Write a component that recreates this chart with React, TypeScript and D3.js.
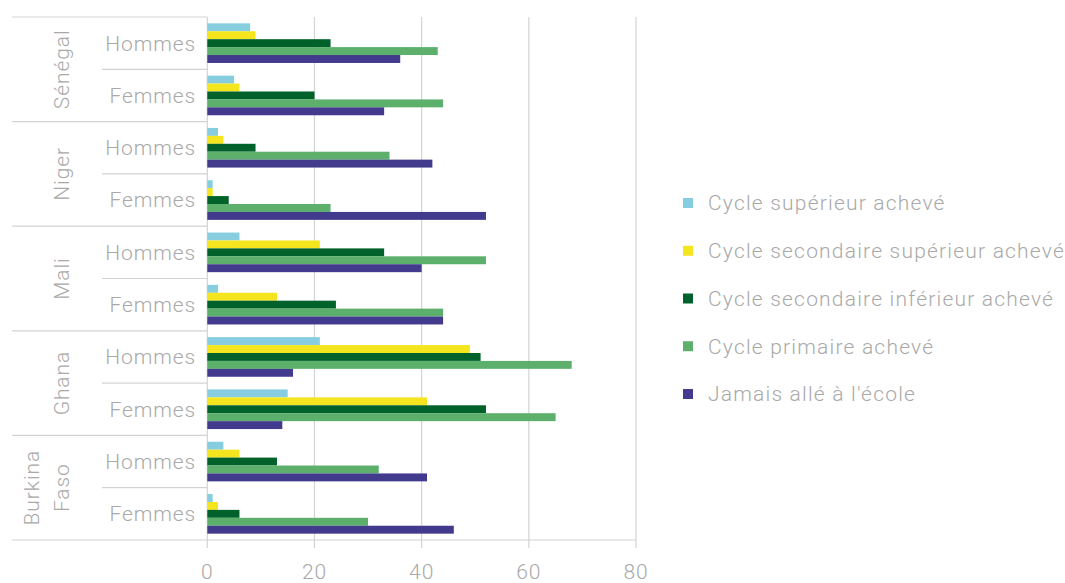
import React from 'react';
import * as d3 from 'd3';

const countries = ['Sénégal', 'Niger', 'Mali', 'Ghana', 'Burkina Faso'];
const countryLines = [['Sénégal'], ['Niger'], ['Mali'], ['Ghana'], ['Burkina', 'Faso']];
const sexes = ['Hommes', 'Femmes'];
const seriesNames = [
  'Cycle supérieur achevé',
  'Cycle secondaire supérieur achevé',
  'Cycle secondaire inférieur achevé',
  'Cycle primaire achevé',
  "Jamais allé à l'école",
];
const seriesColors = ['#86cde0', '#f5e51e', '#00612b', '#5cb06b', '#413a8d'];
// order: Sénégal H, F, Niger H, F, Mali H, F, Ghana H, F, Burkina H, F
const superieur = [8, 5, 2, 1, 6, 2, 21, 15, 3, 1];
const secondaireSup = [9, 6, 3, 1, 21, 13, 49, 41, 6, 2];
const secondaireInf = [23, 20, 9, 4, 33, 24, 51, 52, 13, 6];
const primaire = [43, 44, 34, 23, 52, 44, 68, 65, 32, 30];
const jamais = [36, 33, 42, 52, 40, 44, 16, 14, 41, 46];
const xTicks = [0, 20, 40, 60, 80];

const seriesValues = [superieur, secondaireSup, secondaireInf, primaire, jamais];

const W = 1065;
const H = 583;
const FONT = 'Roboto, sans-serif';
const TEXT = '#a9a9a9';
const LINE = '#d3d3d3';

export default function App() {
  const rows = countries.flatMap((c) => sexes.map((s) => `${c}|${s}`));
  const x = d3.scaleLinear().domain([0, 80]).range([207.3, 636]);
  const y = d3.scaleBand<string>().domain(rows).range([17, 540]).padding(0);
  const inner = d3
    .scaleBand<number>()
    .domain(seriesNames.map((_, i) => i))
    .range([0, y.bandwidth()])
    .paddingInner(0)
    .paddingOuter(0.8);
  const countryH = y.bandwidth() * 2;
  const legendY = d3.scaleLinear().domain([0, 4]).range([203, 394]);

  return (
    <div style={{ position: 'absolute', left: 0, top: 0 }}>
      <svg width={W} height={H} style={{ display: 'block', background: '#fff' }} fontFamily={FONT}>
        {/* gridlines */}
        {xTicks.map((t) => (
          <line key={t} x1={x(t)} x2={x(t)} y1={17} y2={548} stroke={LINE} strokeWidth={1.2} />
        ))}
        {/* bars */}
        {rows.map((r, ri) =>
          seriesValues.map((vals, si) => (
            <rect
              key={`${r}-${si}`}
              x={x(0)}
              y={(y(r) as number) + (inner(si) as number)}
              width={x(vals[ri]) - x(0)}
              height={inner.bandwidth()}
              fill={seriesColors[si]}
            />
          ))
        )}
        {/* category separators */}
        {countries.map((c, ci) => {
          const top = y(`${c}|Hommes`) as number;
          return (
            <g key={c}>
              <line x1={12} x2={x(0)} y1={top} y2={top} stroke={LINE} strokeWidth={1.2} />
              <line x1={102} x2={x(0)} y1={top + y.bandwidth()} y2={top + y.bandwidth()} stroke={LINE} strokeWidth={1.2} />
              {countryLines[ci].map((ln, li) => {
                const n = countryLines[ci].length;
                const cx = 62 - (n - 1 - li) * 30;
                return (
                  <text
                    key={ln}
                    transform={`translate(${cx},${top + countryH / 2}) rotate(-90)`}
                    textAnchor="middle"
                    dy="0.35em"
                    fontSize={21}
                    fontWeight={300}
                    letterSpacing={0.9}
                    fill={TEXT}
                  >
                    {ln}
                  </text>
                );
              })}
            </g>
          );
        })}
        <line x1={12} x2={x(80)} y1={540} y2={540} stroke={LINE} strokeWidth={1.2} />
        {/* row labels */}
        {rows.map((r) => (
          <text
            key={r}
            x={196}
            y={(y(r) as number) + y.bandwidth() / 2}
            dy="0.35em"
            textAnchor="end"
            fontSize={21}
            fontWeight={300}
            letterSpacing={0.9}
            fill={TEXT}
          >
            {r.split('|')[1]}
          </text>
        ))}
        {/* x tick labels */}
        {xTicks.map((t) => (
          <text key={t} x={x(t)} y={579} textAnchor="middle" fontSize={21} fontWeight={300} letterSpacing={0.9} fill={TEXT}>
            {t}
          </text>
        ))}
        {/* legend */}
        {seriesNames.map((s, i) => (
          <g key={s} transform={`translate(683,${legendY(i)})`}>
            <rect x={0} y={-5} width={10} height={10} fill={seriesColors[i]} />
            <text x={25} dy="0.35em" fontSize={21} fontWeight={300} letterSpacing={1.2} fill={TEXT}>
              {s}
            </text>
          </g>
        ))}
      </svg>
    </div>
  );
}
